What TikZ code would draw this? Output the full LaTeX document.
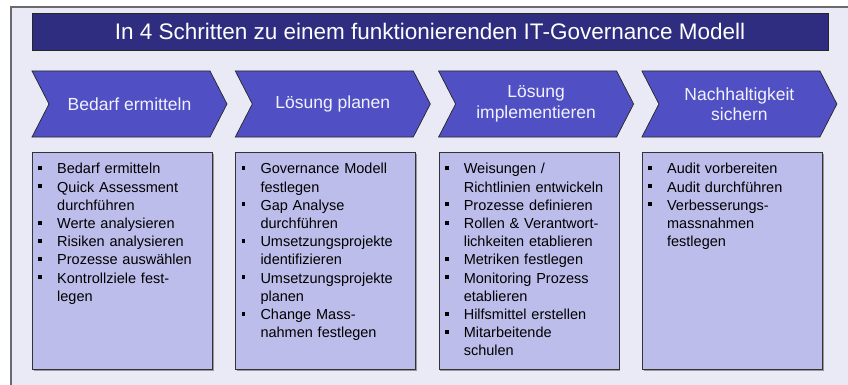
\documentclass[tikz,border=0pt]{standalone}
\usepackage{fontspec}
\setmainfont{Liberation Sans}
\usetikzlibrary{positioning,shadows}
\definecolor{panelbg}{RGB}{234,234,247}
\definecolor{framegray}{RGB}{105,105,112}
\definecolor{titlenavy}{RGB}{46,45,128}
\definecolor{stepblue}{RGB}{80,80,196}
\definecolor{boxlilac}{RGB}{189,189,235}
\newcommand{\taskitem}[1]{\par\noindent\hangindent=19pt\hangafter=1\strut\makebox[19pt][l]{\rule[4pt]{3.8pt}{3.8pt}}#1\par}
\tikzset{titlebar/.style={rectangle, fill=titlenavy, draw=black!85, line width=0.8pt,
minimum width=796pt, minimum height=37pt, inner sep=0pt, text=white,
font=\fontsize{22.5}{26}\selectfont},
stepchev/.style={fill=stepblue, draw=black!85, line width=0.7pt, line join=miter},
steplabel/.style={align=center, text=white!95!blue, inner sep=0pt,
font=\fontsize{17.5}{20.5}\selectfont},
taskbox/.style={rectangle, fill=boxlilac, draw=black!80, line width=0.8pt,
minimum width=180pt, minimum height=217pt, inner sep=0pt, anchor=north west,
drop shadow={shadow xshift=1.2pt, shadow yshift=-1.2pt, fill=black!40, opacity=1}},
tasklist/.style={text width=172pt, inner sep=0pt, align=left,
font=\fontsize{14.5}{18.2}\selectfont\setlength{\parskip}{0pt}}}

\begin{document}
\begin{tikzpicture}[x=1pt,y=-1pt]
  \path[use as bounding box, clip] (0,0) rectangle (848,385);
  \fill[white] (0,0) rectangle (848,385);
  \draw[fill=panelbg, draw=framegray, line width=1.6pt] (11,7) rectangle (870,400);

  \node (title) [titlebar] at (430,31.5) {In 4 Schritten zu einem funktionierenden IT-Governance Modell};

  % the four steps
  \foreach \i/\steptext in {0/{Bedarf ermitteln}, 1/{Lösung planen},
      2/{Lösung\\implementieren}, 3/{Nachhaltigkeit\\sichern}} {
    \pgfmathsetmacro{\x}{32+203.3*\i}
    \draw [stepchev] (\x,71) -- ++(178,0) -- ++(17,33) -- ++(-17,33)
      -- ++(-178,0) -- ++(17,-33) -- cycle;
    \node (step\i) [steplabel] at (\x+97.5,104) {\steptext};
    \node (box\i) [taskbox] at (\x,152) {};
  }

  % what belongs to each step
  \node (tasks0) [tasklist, below right=3.5pt and 6pt of box0.north west] {
    \taskitem{Bedarf ermitteln}
    \taskitem{Quick Assessment\newline durchführen}
    \taskitem{Werte analysieren}
    \taskitem{Risiken analysieren}
    \taskitem{Prozesse auswählen}
    \taskitem{Kontrollziele fest-\newline legen}};
  \node (tasks1) [tasklist, below right=3.5pt and 6pt of box1.north west] {
    \taskitem{Governance Modell\newline festlegen}
    \taskitem{Gap Analyse\newline durchführen}
    \taskitem{Umsetzungsprojekte\newline identifizieren}
    \taskitem{Umsetzungsprojekte\newline planen}
    \taskitem{Change Mass-\newline nahmen festlegen}};
  \node (tasks2) [tasklist, below right=3.5pt and 6pt of box2.north west] {
    \taskitem{Weisungen /\newline Richtlinien entwickeln}
    \taskitem{Prozesse definieren}
    \taskitem{Rollen \& Verantwort-\newline lichkeiten etablieren}
    \taskitem{Metriken festlegen}
    \taskitem{Monitoring Prozess\newline etablieren}
    \taskitem{Hilfsmittel erstellen}
    \taskitem{Mitarbeitende\newline schulen}};
  \node (tasks3) [tasklist, below right=3.5pt and 6pt of box3.north west] {
    \taskitem{Audit vorbereiten}
    \taskitem{Audit durchführen}
    \taskitem{Verbesserungs-\newline massnahmen\newline festlegen}};
\end{tikzpicture}
\end{document}
